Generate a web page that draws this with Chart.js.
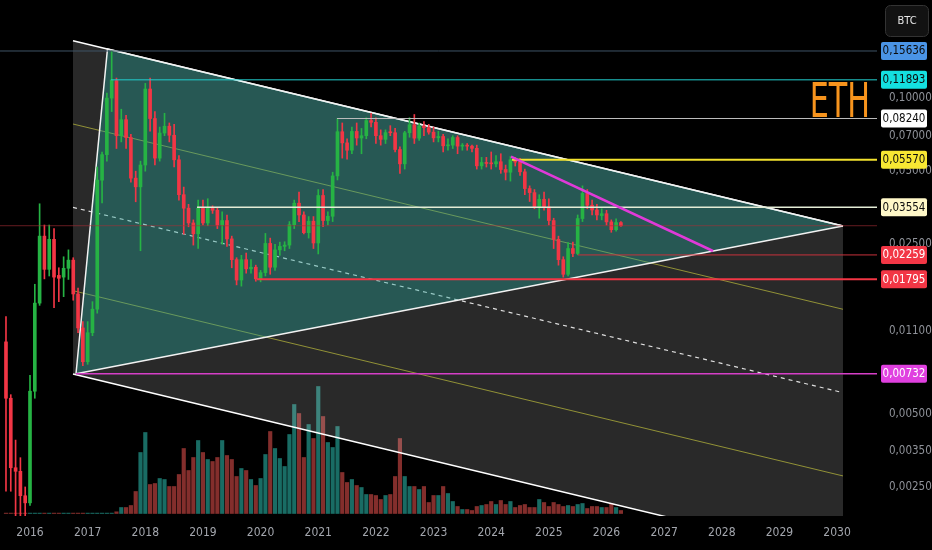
<!DOCTYPE html>
<html>
<head>
<meta charset="utf-8">
<title>ETH/BTC monthly</title>
<script src="https://cdn.jsdelivr.net/npm/chart.js@4.4.1/dist/chart.umd.min.js"></script>
<style>
  html, body { margin: 0; padding: 0; background: #000; }
  #wrap { width: 932px; height: 550px; }
</style>
</head>
<body>
<div id="wrap"><canvas id="ethChart" width="932" height="550"></canvas></div>
<script>
// monthly candles ETH/BTC
const months = [
  '2015-08','2015-09','2015-10','2015-11','2015-12',
  '2016-01','2016-02','2016-03','2016-04','2016-05','2016-06','2016-07','2016-08','2016-09','2016-10','2016-11','2016-12',
  '2017-01','2017-02','2017-03','2017-04','2017-05','2017-06','2017-07','2017-08','2017-09','2017-10','2017-11','2017-12',
  '2018-01','2018-02','2018-03','2018-04','2018-05','2018-06','2018-07','2018-08','2018-09','2018-10','2018-11','2018-12',
  '2019-01','2019-02','2019-03','2019-04','2019-05','2019-06','2019-07','2019-08','2019-09','2019-10','2019-11','2019-12',
  '2020-01','2020-02','2020-03','2020-04','2020-05','2020-06','2020-07','2020-08','2020-09','2020-10','2020-11','2020-12',
  '2021-01','2021-02','2021-03','2021-04','2021-05','2021-06','2021-07','2021-08','2021-09','2021-10','2021-11','2021-12',
  '2022-01','2022-02','2022-03','2022-04','2022-05','2022-06','2022-07','2022-08','2022-09','2022-10','2022-11','2022-12',
  '2023-01','2023-02','2023-03','2023-04','2023-05','2023-06','2023-07','2023-08','2023-09','2023-10','2023-11','2023-12',
  '2024-01','2024-02','2024-03','2024-04','2024-05','2024-06','2024-07','2024-08','2024-09','2024-10','2024-11','2024-12',
  '2025-01','2025-02','2025-03','2025-04','2025-05','2025-06','2025-07','2025-08','2025-09','2025-10','2025-11','2025-12',
  '2026-01','2026-02','2026-03','2026-04'
];

const open = [
  0.0099, 0.0058, 0.0030, 0.0029, 0.0023,
  0.00215, 0.0062, 0.0143, 0.0270, 0.0197, 0.0262, 0.0186, 0.0183, 0.0199, 0.0215, 0.0156, 0.0113,
  0.0082, 0.0108, 0.0135, 0.0459, 0.0585, 0.1000, 0.1180, 0.0700, 0.0815, 0.0688, 0.0468, 0.0431,
  0.0530, 0.1090, 0.0824, 0.0566, 0.0718, 0.0766, 0.0703, 0.0557, 0.0400, 0.0352, 0.0306, 0.0276,
  0.0352, 0.0306, 0.0352, 0.0345, 0.0300, 0.0313, 0.0263, 0.0216, 0.0178, 0.0216, 0.0198, 0.0201,
  0.0180, 0.0191, 0.0252, 0.0201, 0.0237, 0.0245, 0.0248, 0.0301, 0.0369, 0.0330, 0.0279, 0.0311,
  0.0253, 0.0397, 0.0313, 0.0326, 0.0478, 0.0727, 0.0654, 0.0610, 0.0729, 0.0685, 0.0700, 0.0808,
  0.0795, 0.0700, 0.0676, 0.0725, 0.0720, 0.0614, 0.0536, 0.0720, 0.0777, 0.0684, 0.0767, 0.0756,
  0.0724, 0.0686, 0.0695, 0.0636, 0.0640, 0.0688, 0.0634, 0.0637, 0.0634, 0.0621, 0.0526, 0.0543,
  0.0538, 0.0536, 0.0547, 0.0508, 0.0495, 0.0557, 0.0545, 0.0497, 0.0424, 0.0408, 0.0357, 0.0383,
  0.0356, 0.0313, 0.0262, 0.0216, 0.0188, 0.0240, 0.0229, 0.0319, 0.0405, 0.0362, 0.0346, 0.0328,
  0.0334, 0.0309, 0.0287, 0.0307
];
const high = [
  0.0126, 0.0060, 0.0039, 0.0033, 0.0025,
  0.0072, 0.0171, 0.0367, 0.0300, 0.0300, 0.0290, 0.0200, 0.0222, 0.0237, 0.0220, 0.0165, 0.0120,
  0.0120, 0.0145, 0.0520, 0.0600, 0.1050, 0.1564, 0.1210, 0.0900, 0.0850, 0.0710, 0.0500, 0.0550,
  0.1150, 0.1209, 0.0880, 0.0760, 0.0866, 0.0790, 0.0780, 0.0580, 0.0430, 0.0365, 0.0315, 0.0380,
  0.0380, 0.0385, 0.0360, 0.0355, 0.0340, 0.0330, 0.0270, 0.0220, 0.0225, 0.0230, 0.0216, 0.0205,
  0.0195, 0.0277, 0.0265, 0.0250, 0.0255, 0.0256, 0.0310, 0.0380, 0.0410, 0.0340, 0.0325, 0.0325,
  0.0420, 0.0420, 0.0340, 0.0495, 0.0824, 0.0790, 0.0680, 0.0760, 0.0790, 0.0750, 0.0830, 0.0866,
  0.0830, 0.0740, 0.0740, 0.0770, 0.0750, 0.0630, 0.0730, 0.0830, 0.0856, 0.0790, 0.0800, 0.0780,
  0.0760, 0.0730, 0.0710, 0.0680, 0.0700, 0.0700, 0.0650, 0.0650, 0.0640, 0.0640, 0.0570, 0.0570,
  0.0600, 0.0580, 0.0590, 0.0530, 0.0575, 0.0570, 0.0565, 0.0510, 0.0435, 0.0420, 0.0400, 0.0410,
  0.0385, 0.0320, 0.0270, 0.0222, 0.0254, 0.0255, 0.0330, 0.0435, 0.0420, 0.0380, 0.0365, 0.0350,
  0.0345, 0.0315, 0.0318, 0.0310
];
const low = [
  0.0024, 0.0024, 0.0019, 0.0019, 0.0019,
  0.0021, 0.0058, 0.0140, 0.0180, 0.0185, 0.0137, 0.0145, 0.0152, 0.0179, 0.0147, 0.0108, 0.0079,
  0.0080, 0.0105, 0.0130, 0.0370, 0.0550, 0.0880, 0.0620, 0.0660, 0.0620, 0.0450, 0.0374, 0.0235,
  0.0500, 0.0730, 0.0530, 0.0550, 0.0700, 0.0660, 0.0520, 0.0380, 0.0275, 0.0295, 0.0248, 0.0240,
  0.0300, 0.0298, 0.0335, 0.0290, 0.0250, 0.0245, 0.0200, 0.0170, 0.0168, 0.0190, 0.0190, 0.0176,
  0.0175, 0.0185, 0.0188, 0.0195, 0.0225, 0.0235, 0.0240, 0.0290, 0.0310, 0.0276, 0.0265, 0.0240,
  0.0228, 0.0295, 0.0300, 0.0310, 0.0460, 0.0566, 0.0560, 0.0590, 0.0640, 0.0590, 0.0680, 0.0760,
  0.0650, 0.0640, 0.0650, 0.0700, 0.0600, 0.0490, 0.0510, 0.0690, 0.0650, 0.0670, 0.0700, 0.0710,
  0.0660, 0.0660, 0.0600, 0.0610, 0.0620, 0.0590, 0.0610, 0.0610, 0.0600, 0.0510, 0.0510, 0.0520,
  0.0510, 0.0520, 0.0490, 0.0460, 0.0455, 0.0525, 0.0480, 0.0400, 0.0375, 0.0350, 0.0320, 0.0345,
  0.0300, 0.0240, 0.0205, 0.0183, 0.0185, 0.0222, 0.0226, 0.0310, 0.0350, 0.0330, 0.0315, 0.0315,
  0.0300, 0.0280, 0.0283, 0.0296
];
const close = [
  0.0058, 0.0030, 0.0029, 0.0023, 0.00215,
  0.0062, 0.0143, 0.0270, 0.0197, 0.0262, 0.0183, 0.0181, 0.0199, 0.0215, 0.0156, 0.0113, 0.0082,
  0.0108, 0.0135, 0.0459, 0.0585, 0.1000, 0.1189, 0.0700, 0.0815, 0.0688, 0.0468, 0.0431, 0.0530,
  0.1090, 0.0824, 0.0566, 0.0718, 0.0766, 0.0703, 0.0557, 0.0400, 0.0352, 0.0306, 0.0276, 0.0352,
  0.0306, 0.0352, 0.0345, 0.0300, 0.0313, 0.0263, 0.0216, 0.0178, 0.0216, 0.0198, 0.0201, 0.0180,
  0.0191, 0.0252, 0.0201, 0.0237, 0.0245, 0.0248, 0.0301, 0.0369, 0.0330, 0.0279, 0.0311, 0.0253,
  0.0397, 0.0313, 0.0326, 0.0478, 0.0727, 0.0654, 0.0610, 0.0729, 0.0685, 0.0700, 0.0808, 0.0795,
  0.0700, 0.0676, 0.0721, 0.0720, 0.0614, 0.0536, 0.0720, 0.0777, 0.0684, 0.0767, 0.0756, 0.0724,
  0.0686, 0.0695, 0.0636, 0.0640, 0.0688, 0.0634, 0.0637, 0.0634, 0.0621, 0.0526, 0.0543, 0.0538,
  0.0536, 0.0547, 0.0508, 0.0495, 0.0557, 0.0545, 0.0497, 0.0424, 0.0408, 0.0357, 0.0383, 0.0356,
  0.0313, 0.0262, 0.0216, 0.0188, 0.0240, 0.0229, 0.0319, 0.0405, 0.0362, 0.0346, 0.0330, 0.0334,
  0.0309, 0.0287, 0.0307, 0.0298
];
// relative volume
const volume = [
  0.4, 0.4, 0.4, 0.4, 0.4,
  0.4, 0.4, 0.4, 0.4, 0.4, 0.4, 0.4, 0.4, 0.4, 0.4, 0.4, 0.4,
  0.4, 0.4, 0.4, 0.4, 0.4, 0.4, 1.7, 6, 6, 8, 22, 61,
  81, 29, 30, 35, 34, 27, 27, 39, 65, 43, 56, 73,
  61, 54, 52, 56, 73, 58, 54, 37, 45, 43, 34, 28,
  35, 59, 82, 65, 55, 47, 79, 109, 100, 56, 89, 75,
  127, 97, 71, 66, 87, 41, 31, 34, 28, 26, 19, 19,
  18, 14, 18, 19, 37, 75, 37, 27, 27, 24, 27, 11,
  18, 18, 27, 20, 12, 7, 4, 4, 3, 7, 8, 9,
  12, 9, 13, 9, 12, 6, 8, 9, 6, 6, 14, 11,
  7, 11, 9, 7, 8, 7, 9, 10, 5, 7, 7, 6,
  6, 10, 6, 3
];

const yearTicks = [2016, 2017, 2018, 2019, 2020, 2021, 2022, 2023, 2024, 2025, 2026, 2027, 2028, 2029, 2030];
const priceTicks = [0.1, 0.07, 0.05, 0.025, 0.011, 0.005, 0.0035, 0.0025];

// drawings: [decimal year, price]
const channelTop    = [[2016.746, 0.17242], [2030.102, 0.02973]];
const channelBottom = [[2016.746, 0.007298], [2030.102, 0.001258]];
const channelMid    = [[2016.746, 0.035474], [2030.102, 0.006117]];
const channelUpperQ = [[2016.746, 0.07821], [2030.102, 0.013489]];
const channelLowerQ = [[2016.746, 0.016092], [2030.102, 0.002775]];
const triangleUpper = [[2016.798, 0.00732], [2017.344, 0.15934], [2030.102, 0.02973]];
const triangleLower = [[2016.798, 0.00732], [2030.102, 0.02973]];
const trendLine     = [[2024.343, 0.05746], [2027.847, 0.023446]];

const levelPrices = [0.15636, 0.11893, 0.08240, 0.05570, 0.03554, 0.02259, 0.01795, 0.00732];
const levelFrom   = [2015.48, 2017.405, 2021.325, 2024.36, 2018.897, 2025.505, 2019.938, 2016.798];
const levelColors = ['#3e5366', '#22cfcf', '#bdbdbd', '#f2e22e', '#e4ecd6', '#c8323c', '#f23645', '#d63fc8'];
const levelWidths = [1, 1, 1, 2, 1.5, 1, 2, 1.5];
const tagColors   = ['#4a94e6', '#14e0e0', '#ffffff', '#f7e733', '#fff8c8', '#f23645', '#f23645', '#e040e0'];
const tagText     = ['#0c0c0c', '#0c0c0c', '#0c0c0c', '#0c0c0c', '#0c0c0c', '#ffffff', '#ffffff', '#ffffff'];

const X_MIN = 2015.4796, X_MAX = 2030.692;
const Y_MIN = 0.0018978, Y_MAX = 0.25366;
const NARROW = '"Liberation Sans Narrow", "DejaVu Sans Condensed", "Liberation Sans", sans-serif';
const UP = '#26b344', DOWN = '#f23645';

const toYear = m => {
  const [y, mo] = m.split('-').map(Number);
  return y + (mo - 1) / 12;
};
const t = months.map(toYear);
const isUp = close.map((c, i) => c >= open[i]);
const candleColors = isUp.map(u => u ? UP : DOWN);
const volColors = isUp.map(u => u ? 'rgba(38,166,154,0.65)' : 'rgba(239,83,80,0.55)');
const pts = arr => arr.map(([x, y]) => ({ x, y }));

const lineDs = (data, color, width, order, extra) => Object.assign({
  type: 'line',
  data: pts(data),
  yAxisID: 'y',
  borderColor: color,
  borderWidth: width,
  pointRadius: 0,
  tension: 0,
  fill: false,
  order
}, extra || {});

const datasets = [
  {
    type: 'bar',
    data: t.map((x, i) => ({ x, y: volume[i] })),
    yAxisID: 'yv',
    backgroundColor: volColors,
    barThickness: 3.5,
    grouped: false,
    order: 50
  },
  lineDs(channelTop, '#ffffff', 1.5, 40, { fill: '+1', backgroundColor: 'rgba(255,255,255,0.16)' }),
  lineDs(channelBottom, '#ffffff', 1.5, 39),
  lineDs(channelMid, 'rgba(255,255,255,0.85)', 1.2, 38, { borderDash: [4, 4] }),
  lineDs(channelUpperQ, 'rgba(190,190,60,0.7)', 1, 37),
  lineDs(channelLowerQ, 'rgba(190,190,60,0.7)', 1, 37),
  lineDs(triangleUpper, '#f2f2f2', 1.5, 30, { fill: '+1', backgroundColor: 'rgba(38,166,154,0.38)' }),
  lineDs(triangleLower, '#f2f2f2', 1.5, 29),
  {
    type: 'bar',
    data: t.map((x, i) => ({ x, y: [low[i], high[i]] })),
    yAxisID: 'y',
    backgroundColor: candleColors,
    barThickness: 1,
    grouped: false,
    order: 20
  },
  {
    type: 'bar',
    data: t.map((x, i) => ({ x, y: [open[i], close[i]] })),
    yAxisID: 'y',
    backgroundColor: candleColors,
    barThickness: 3,
    minBarLength: 1,
    grouped: false,
    order: 19
  },
  lineDs([[X_MIN, close[close.length - 1]], [X_MAX, close[close.length - 1]]], 'rgba(170,45,55,0.6)', 1, 12)
];

levelPrices.forEach((p, i) => {
  datasets.push(lineDs([[levelFrom[i], p], [X_MAX, p]], levelColors[i], levelWidths[i], 10));
});
datasets.push(lineDs(trendLine, '#e03ad8', 2.5, 5));

const fmt = v => Number(v).toFixed(5).replace('.', ',');

// no extra room around the plot: the scales sit flush like the trading view
const noPad = s => { s.paddingTop = 0; s.paddingBottom = 0; s.paddingLeft = 0; s.paddingRight = 0; };

const overlay = {
  id: 'overlay',
  afterDraw(chart) {
    const { ctx, chartArea } = chart;
    const y = chart.scales.y;
    ctx.save();

    // price tags on the right scale
    ctx.font = '11.5px ' + NARROW;
    ctx.textAlign = 'center';
    ctx.textBaseline = 'middle';
    levelPrices.forEach((p, i) => {
      const py = y.getPixelForValue(p);
      ctx.fillStyle = tagColors[i];
      ctx.beginPath();
      ctx.roundRect(chartArea.right + 4, py - 9, 46, 18, 2);
      ctx.fill();
      ctx.fillStyle = tagText[i];
      ctx.fillText(fmt(p), chartArea.right + 27, py + 0.5);
    });

    // ETH text note
    ctx.save();
    ctx.fillStyle = '#f7941d';
    ctx.font = '48px ' + NARROW;
    ctx.textAlign = 'right';
    ctx.textBaseline = 'alphabetic';
    ctx.translate(chartArea.right - 7, y.getPixelForValue(0.0836));
    ctx.scale(0.7, 1);
    ctx.fillText('ETH', 0, 0);
    ctx.restore();

    // BTC button
    ctx.fillStyle = '#121212';
    ctx.strokeStyle = '#333';
    ctx.lineWidth = 1;
    ctx.beginPath();
    ctx.roundRect(chartArea.right + 8.5, 5.5, 43, 31, 5);
    ctx.fill();
    ctx.stroke();
    ctx.fillStyle = '#e8e8e8';
    ctx.font = '11px ' + NARROW;
    ctx.textAlign = 'center';
    ctx.fillText('BTC', chartArea.right + 30, 21.5);

    ctx.restore();
  }
};

new Chart(document.getElementById('ethChart'), {
  type: 'bar',
  data: { datasets },
  options: {
    responsive: false,
    animation: false,
    events: [],
    layout: { padding: 0 },
    plugins: { legend: { display: false }, tooltip: { enabled: false } },
    scales: {
      x: {
        type: 'linear',
        offset: false,
        min: X_MIN,
        max: X_MAX,
        grid: { display: false, drawTicks: false, offset: false },
        border: { display: false },
        afterBuildTicks: s => { s.ticks = yearTicks.map(v => ({ value: v })); },
        afterFit: s => { s.height = 34; noPad(s); },
        ticks: {
          autoSkip: false,
          maxRotation: 0,
          padding: 10,
          color: '#a3a6ad',
          font: { family: NARROW, size: 12 },
          callback: v => String(v)
        }
      },
      y: {
        type: 'logarithmic',
        position: 'right',
        min: Y_MIN,
        max: Y_MAX,
        grid: { display: false, drawTicks: false },
        border: { display: false },
        afterBuildTicks: s => { s.ticks = priceTicks.map(v => ({ value: v })); },
        afterFit: s => { s.width = 55; noPad(s); },
        ticks: {
          autoSkip: false,
          padding: 12,
          color: '#8f9299',
          font: { family: NARROW, size: 11.5 },
          callback: v => fmt(v)
        }
      },
      yv: {
        type: 'linear',
        display: false,
        min: -2.5,
        max: 513.5
      }
    }
  },
  plugins: [overlay]
});
</script>
</body>
</html>
